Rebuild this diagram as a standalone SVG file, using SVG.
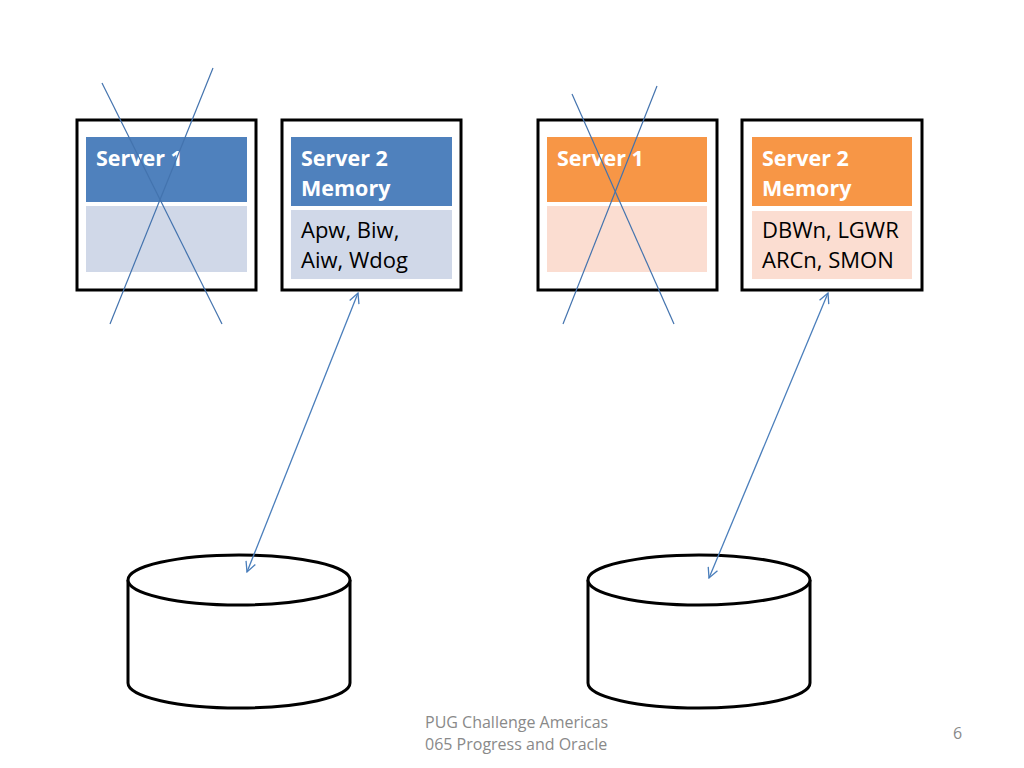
<svg xmlns="http://www.w3.org/2000/svg" width="1024" height="768" viewBox="0 0 1024 768">
<defs>
<style>
.frame{fill:#fff;stroke:#000;stroke-width:3}
.hb{fill:#4F81BD}
.lb{fill:#D0D8E8}
.ho{fill:#F79646}
.lo{fill:#FBDDD1}
.ht{font-family:"Open Sans","Liberation Sans",sans-serif;font-weight:bold;font-size:21.5px;fill:#fff}
.bt{font-family:"Open Sans","Liberation Sans",sans-serif;font-size:22px;fill:#000}
.cross{stroke:#4373AE;stroke-width:1.2;fill:none}
.conn{stroke:#4A7EBB;stroke-width:1.3;fill:none;marker-start:url(#ah);marker-end:url(#ah)}
.cyl{fill:#fff;stroke:#000;stroke-width:3}
.foot{font-family:"Open Sans","Liberation Sans",sans-serif;font-size:16px;fill:#898989}
</style>
<marker id="ah" viewBox="0 0 12 12" refX="11" refY="6" markerWidth="12" markerHeight="12" markerUnits="userSpaceOnUse" orient="auto-start-reverse">
<path d="M1,1 L11,6 L1,11" fill="none" stroke="#4A7EBB" stroke-width="1.3"/>
</marker>
</defs>
<rect width="1024" height="768" fill="#fff"/>

<g id="left-server1">
<rect class="frame" x="77" y="120" width="179" height="170"/>
<rect class="hb" x="86" y="137" width="161" height="65"/>
<rect class="lb" x="86" y="206" width="161" height="66"/>
<text class="ht" x="96" y="166">Server 1</text>
</g>
<g id="left-server2">
<rect class="frame" x="282" y="120" width="179" height="170"/>
<rect class="hb" x="291" y="137" width="161" height="69"/>
<rect class="lb" x="291" y="210" width="161" height="69"/>
<text class="ht" x="301" y="166">Server 2</text>
<text class="ht" x="301" y="196">Memory</text>
<text class="bt" x="301" y="238">Apw, Biw,</text>
<text class="bt" x="301" y="268">Aiw, Wdog</text>
</g>
<g id="left-cross">
<line class="cross" x1="102" y1="83" x2="222" y2="324"/>
<line class="cross" x1="213" y1="68" x2="110" y2="324"/>
</g>

<g id="right-server1">
<rect class="frame" x="538" y="120" width="179" height="170"/>
<rect class="ho" x="547" y="137" width="160" height="65"/>
<rect class="lo" x="547" y="206" width="160" height="66"/>
<text class="ht" x="557" y="166">Server 1</text>
</g>
<g id="right-server2">
<rect class="frame" x="742" y="120" width="180" height="170"/>
<rect class="ho" x="752" y="137" width="160" height="69"/>
<rect class="lo" x="752" y="211" width="160" height="68"/>
<text class="ht" x="762" y="166">Server 2</text>
<text class="ht" x="762" y="196">Memory</text>
<text class="bt" x="762" y="238">DBWn, LGWR</text>
<text class="bt" x="762" y="268">ARCn, SMON</text>
</g>
<g id="right-cross">
<line class="cross" x1="572" y1="94" x2="674" y2="324"/>
<line class="cross" x1="657" y1="86" x2="563" y2="324"/>
</g>

<g id="left-disk">
<path class="cyl" d="M128,580 L128,683 A111,25 0 0 0 350,683 L350,580"/>
<ellipse class="cyl" cx="239" cy="580" rx="111" ry="25"/>
</g>
<g id="right-disk">
<path class="cyl" d="M588,580 L588,683 A111,25 0 0 0 810,683 L810,580"/>
<ellipse class="cyl" cx="699" cy="580" rx="111" ry="25"/>
</g>

<g id="connectors">
<line class="conn" x1="247" y1="572" x2="358" y2="293"/>
<line class="conn" x1="709" y1="578" x2="828" y2="293"/>
</g>

<g id="footer">
<text class="foot" x="425" y="728">PUG Challenge Americas</text>
<text class="foot" x="425" y="750">065 Progress and Oracle</text>
<text class="foot" x="953" y="739">6</text>
</g>
</svg>
